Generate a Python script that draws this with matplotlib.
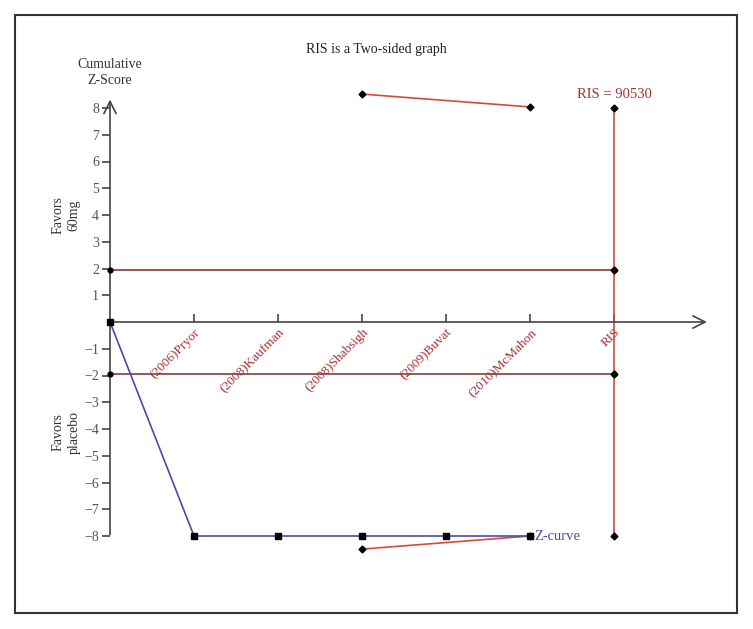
import matplotlib.pyplot as plt
from matplotlib.patches import Rectangle

plt.rcParams['font.family'] = ['Liberation Serif', 'DejaVu Serif']

# study labels along the x axis (cumulative order)
studies = ['(2006)Pryor', '(2008)Kaufman', '(2008)Shabsigh', '(2009)Buvat', '(2010)McMahon', 'RIS']
x_pos = [1, 2, 3, 4, 5, 6]

# cumulative Z-curve (truncated at -8)
z_x = [0, 1, 2, 3, 4, 5]
z_val = [0, -8, -8, -8, -8, -8]

# monitoring boundaries
upper_x = [3, 5]
upper_val = [8.52, 8.04]
lower_x = [3, 5]
lower_val = [-8.49, -8.0]

# conventional boundaries
conv = 1.96
ris_x = 6
ris_top = 8
ris_bottom = -8
ris_text = 'RIS = 90530'

dark_red = '#8c3b3b'
red = '#d5493a'
blue = '#4a4aa8'
label_red = '#a8322f'
axis_col = '#444444'

fig = plt.figure(figsize=(7.53, 6.29), dpi=100)
ax = fig.add_axes([0, 0, 1, 1])
ax.set_xlim(-110 / 84, (753 - 110) / 84)
ax.set_ylim(-(629 - 322) / 26.75, 322 / 26.75)
ax.patch.set_alpha(0)

# frame round the whole picture
fig.patches.append(Rectangle((15 / 753, 16 / 629), 722 / 753, 598 / 629,
                             transform=fig.transFigure, fill=False,
                             edgecolor='#333333', lw=1.5))

# axes with arrows
for s in ['top', 'right']:
    ax.spines[s].set_visible(False)
ax.spines['left'].set_position(('data', 0))
ax.spines['bottom'].set_position(('data', 0))
ax.spines['left'].set_visible(False)
ax.spines['bottom'].set_visible(False)
ax.annotate('', xy=(7.14, 0), xytext=(-0.02, 0),
            arrowprops=dict(arrowstyle='->', color=axis_col, lw=1.2, mutation_scale=22))
ax.annotate('', xy=(0, 8.42), xytext=(0, -8.05),
            arrowprops=dict(arrowstyle='->', color=axis_col, lw=1.2, mutation_scale=22))

yt = [v for v in range(-8, 9) if v != 0]
ax.set_yticks(yt)
ax.set_yticklabels([str(v).replace('-', '\u2212') for v in yt])
ax.tick_params(axis='y', direction='out', length=6, width=1.2, color=axis_col,
               labelcolor='#555555', labelsize=10, pad=2)
ax.set_xticks(x_pos)
ax.set_xticklabels(studies)
ax.tick_params(axis='x', direction='in', length=6, width=1.2, color=axis_col,
               labelcolor=label_red, labelsize=9.5, pad=3)
for lab in ax.get_xticklabels():
    lab.set_rotation(45)
    lab.set_rotation_mode('anchor')
    lab.set_ha('right')
    lab.set_va('top')

# conventional boundaries +-1.96
for c in [conv, -conv]:
    ax.plot([0, ris_x], [c, c], color=dark_red, lw=1.2, marker='o', ms=3.5,
            mfc='black', mec='black', zorder=3)

# RIS vertical line
ax.plot([ris_x, ris_x], [ris_bottom, ris_top], color=red, lw=1.2, zorder=2)
ax.plot([ris_x] * 4, [ris_top, conv, -conv, ris_bottom], ls='none', marker='D',
        ms=3.5, color='black', zorder=4)
ax.text(ris_x, ris_top + 0.25, ris_text, color=label_red, ha='center', va='bottom',
        fontsize=10.5)

# monitoring boundaries
ax.plot(upper_x, upper_val, color=red, lw=1.2, marker='D', ms=3.5,
        mfc='black', mec='black', zorder=3)
ax.plot(lower_x, lower_val, color=red, lw=1.2, marker='D', ms=3.5,
        mfc='black', mec='black', zorder=3)

# Z-curve
ax.plot(z_x, z_val, color=blue, lw=1.2, marker='s', ms=4.5,
        mfc='black', mec='black', zorder=5)
ax.text(z_x[-1] + 0.05, z_val[-1], 'Z-curve', color=blue, ha='left', va='center',
        fontsize=10.5)

# titles and side labels
ax.text(376 / 753, 1 - 50 / 629, 'RIS is a Two-sided graph', transform=ax.transAxes,
        ha='center', va='center', fontsize=10, color='#222222')
ax.text(0, 8.8, 'Cumulative\nZ-Score', ha='center', va='bottom', fontsize=10,
        color='#333333', linespacing=1.25)
ax.text(66 / 753, 1 - 215 / 629, 'Favors\n60mg', transform=ax.transAxes, rotation=90,
        ha='center', va='center', fontsize=10, color='#333333', linespacing=1.35)
ax.text(66 / 753, 1 - 432 / 629, 'Favors\nplacebo', transform=ax.transAxes, rotation=90,
        ha='center', va='center', fontsize=10, color='#333333', linespacing=1.35)

fig.savefig('out.png', dpi=100)
